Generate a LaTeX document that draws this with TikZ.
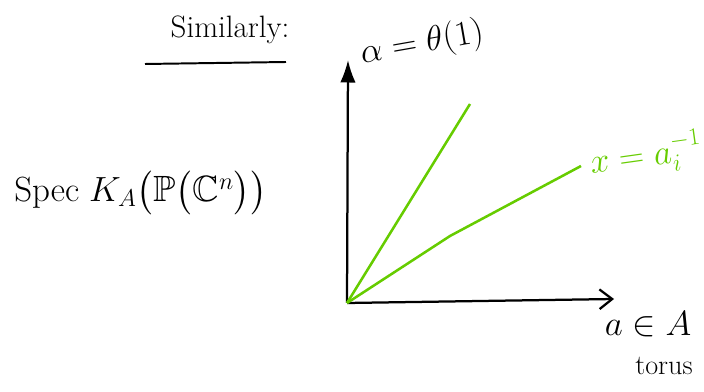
\documentclass[tikz,border=0pt]{standalone}
\usepackage{amsmath,amssymb}
\usepackage{tikz}
\usetikzlibrary{arrows.meta,positioning}
\definecolor{chalkgreen}{RGB}{102,204,0}

\begin{document}
\begin{tikzpicture}[x=0.025cm,y=-0.025cm,every node/.style={inner sep=0pt}]
\useasboundingbox (0,0) rectangle (704,392);
\coordinate (o) at (347,303);
\coordinate (ytip) at (348,60);
\coordinate (xtip) at (614,299);
\coordinate (g1) at (470,104);
\coordinate (gb) at (450,236);
\coordinate (g2) at (581,166);
\coordinate (ul0) at (145,64);
\coordinate (ul1) at (286,62);
\draw[line width=1.6pt,-{Latex[length=16pt,width=11pt]}] (o)--(ytip);
\draw[line width=1.6pt,-{Straight Barb[length=9pt,width=14pt]}] (o)--(xtip);
\draw[line width=1.8pt,chalkgreen] (o)--(g1);
\draw[line width=1.8pt,chalkgreen] (o)--(gb)--(g2);
\draw[line width=1.4pt] (ul0)--(ul1);
\node (sim) at (230,30) {\fontsize{22}{26}\selectfont Similarly:};
\node[rotate=10] (alpha) at (422,44) {\fontsize{26}{30}\selectfont$\alpha=\theta(1)$};
\node[rotate=8,chalkgreen] (xa) at (646,156) {\fontsize{24}{28}\selectfont$x=a_i^{-1}$};
\node[anchor=west] (spec) at (14,193) {\fontsize{26}{32}\selectfont$\mathrm{Spec}\;K_{A}\bigl(\mathbb{P}\bigl(\mathbb{C}^n\bigr)\bigr)$};
\node (aA) at (648,324) {\fontsize{30}{34}\selectfont$a\in A$};
\node (torus) at (664,366) {\fontsize{20}{24}\selectfont torus};
\end{tikzpicture}
\end{document}
